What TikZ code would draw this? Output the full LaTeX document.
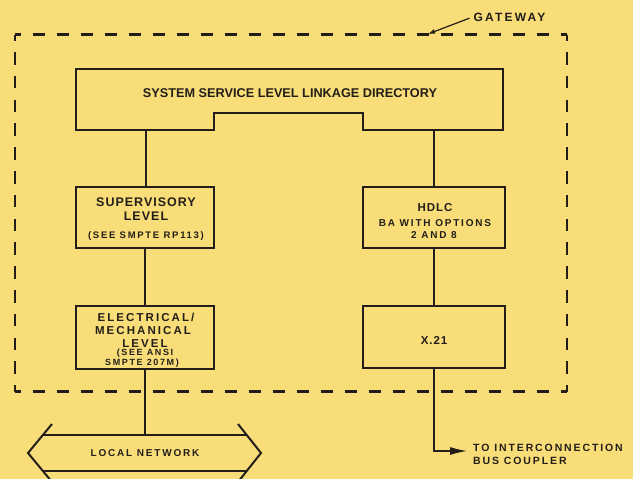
\documentclass[tikz,border=0pt]{standalone}
\usepackage{fontspec}
\setmainfont{Liberation Sans}
\newfontfamily\fA[LetterSpace=8]{Liberation Sans}
\newfontfamily\fB[LetterSpace=18]{Liberation Sans}
\newfontfamily\fC{Liberation Sans}
\usetikzlibrary{arrows.meta}
\definecolor{bg}{RGB}{248,221,120}
\definecolor{ink}{RGB}{35,30,25}
\begin{document}
\begin{tikzpicture}[x=1pt,y=-1pt,
  box/.style={draw=ink, line width=2pt, inner sep=0pt},
  wire/.style={draw=ink, line width=1.2pt},
  gate/.style={draw=ink, line width=2.2pt},
  lbl/.style={text=ink, inner sep=0pt, anchor=base},
  big/.style={lbl, font=\fA\bfseries\fontsize{12.5}{14}\selectfont},
  mid/.style={lbl, font=\fA\bfseries\fontsize{11.5}{13}\selectfont},
  sml/.style={lbl, font=\fB\bfseries\fontsize{9.5}{11}\selectfont}]
\fill[bg] (0,0) rectangle (633,479);
\useasboundingbox (0,0) rectangle (633,479);
\clip (0,0) rectangle (633,479);

% gateway dashed boundary
\coordinate (gTL) at (15,34.5);
\coordinate (gTR) at (567,34.5);
\coordinate (gBR) at (567,391.5);
\coordinate (gBL) at (15,391.5);
\draw[gate, dash pattern=on 12.6pt off 11.4pt, dash phase=6.3pt] (gTL) -- (gTR);
\draw[gate, dash pattern=on 12.6pt off 11.4pt, dash phase=6.3pt] (gBL) -- (gBR);
\draw[gate, dash pattern=on 12.5pt off 11.3pt, dash phase=6.25pt] (gTL) -- (gBL);
\draw[gate, dash pattern=on 12.5pt off 11.3pt, dash phase=6.25pt] (gTR) -- (gBR);

% gateway label
\node[lbl, font=\fB\bfseries\fontsize{12}{14}\selectfont] (gw) at (509.5,21.3) {GATEWAY};
\coordinate (gwTip) at (428,34);
\draw[wire, -{Latex[length=7pt,width=5pt]}] ([xshift=-4pt,yshift=-1pt]gw.west) -- (gwTip);

% top box
\coordinate (s1) at (76,69);
\coordinate (s2) at (503,69);
\coordinate (s3) at (503,130);
\coordinate (s4) at (363,130);
\coordinate (s5) at (363,113);
\coordinate (s6) at (214,113);
\coordinate (s7) at (214,130);
\coordinate (s8) at (76,130);
\draw[box, line join=miter] (s1) -- (s2) -- (s3) -- (s4) -- (s5) -- (s6) -- (s7) -- (s8) -- cycle;
\node[lbl, font=\fC\bfseries\fontsize{12.7}{14}\selectfont] (ssl) at (290,97.5) {SYSTEM SERVICE LEVEL LINKAGE DIRECTORY};
\coordinate (sslL) at (146,130);
\coordinate (sslR) at (434,130);

% boxes
\node[box, minimum width=138pt, minimum height=61pt] (sup) at (145,217.5) {};
\node[box, minimum width=142pt, minimum height=61pt] (hdlc) at (434,217.5) {};
\node[box, minimum width=138pt, minimum height=63pt] (elec) at (145,337.5) {};
\node[box, minimum width=142pt, minimum height=62pt] (x21) at (434,337) {};

% box texts
\node[big] (supA) at (146,206.5) {SUPERVISORY};
\node[big] (supB) at (146,220.5) {LEVEL};
\node[sml] (supC) at (146,238.4) {(SEE SMPTE RP113)};

\node[mid] (hdA) at (435,211) {HDLC};
\node[sml, font=\fB\bfseries\fontsize{10}{12}\selectfont] (hdB) at (435,226.6) {BA WITH OPTIONS};
\node[sml, font=\fB\bfseries\fontsize{10}{12}\selectfont] (hdC) at (434,238.6) {2 AND 8};

\node[mid] (xA) at (434,344) {X.21};

\node[lbl, font=\fB\bfseries\fontsize{11.5}{13}\selectfont] (elA) at (146,321) {ELECTRICAL/};
\node[lbl, font=\fB\bfseries\fontsize{11.5}{13}\selectfont] (elB) at (143,334) {MECHANICAL};
\node[lbl, font=\fB\bfseries\fontsize{11.5}{13}\selectfont] (elC) at (145,347) {LEVEL};
\node[sml, font=\fB\bfseries\fontsize{9}{10}\selectfont] (elD) at (145,355.6) {(SEE ANSI};
\node[sml, font=\fB\bfseries\fontsize{9}{10}\selectfont] (elE) at (142,365.4) {SMPTE 207M)};

% connectors
\draw[wire] (sslL) -- (sslL |- sup.north);
\draw[wire] (sup.south) -- (elec.north);
\draw[wire] (sslR) -- (sslR |- hdlc.north);
\draw[wire] (hdlc.south) -- (x21.north);

% local network
\coordinate (lnL1) at (52,424);
\coordinate (lnL2) at (28,453);
\coordinate (lnL3) at (52,482);
\coordinate (lnR1) at (238,424);
\coordinate (lnR2) at (261,453);
\coordinate (lnR3) at (238,482);
\coordinate (lnTL) at (42.9,435);
\coordinate (lnTR) at (246.7,435);
\coordinate (lnBL) at (42.9,471);
\coordinate (lnBR) at (246.7,471);
\coordinate (lnTop) at (145,435);
\draw[box, line join=miter] (lnL1) -- (lnL2) -- (lnL3);
\draw[box, line join=miter] (lnR1) -- (lnR2) -- (lnR3);
\draw[box] (lnTL) -- (lnTR);
\draw[box] (lnBL) -- (lnBR);
\node[lbl, font=\fB\bfseries\fontsize{10}{12}\selectfont] (ln) at (145,456.6) {LOCAL NETWORK};
\draw[wire] (elec.south) -- (lnTop);

% output to bus coupler
\coordinate (outTip) at (467,451);
\draw[wire, -{Latex[length=17pt,width=8pt]}] (x21.south) |- (outTip);
\node[lbl, anchor=base west, font=\fB\bfseries\fontsize{10.5}{13}\selectfont] (outA) at (473,451) {TO INTERCONNECTION};
\node[lbl, anchor=base west, font=\fB\bfseries\fontsize{10.5}{13}\selectfont] (outB) at (473,464) {BUS COUPLER};
\end{tikzpicture}
\end{document}
